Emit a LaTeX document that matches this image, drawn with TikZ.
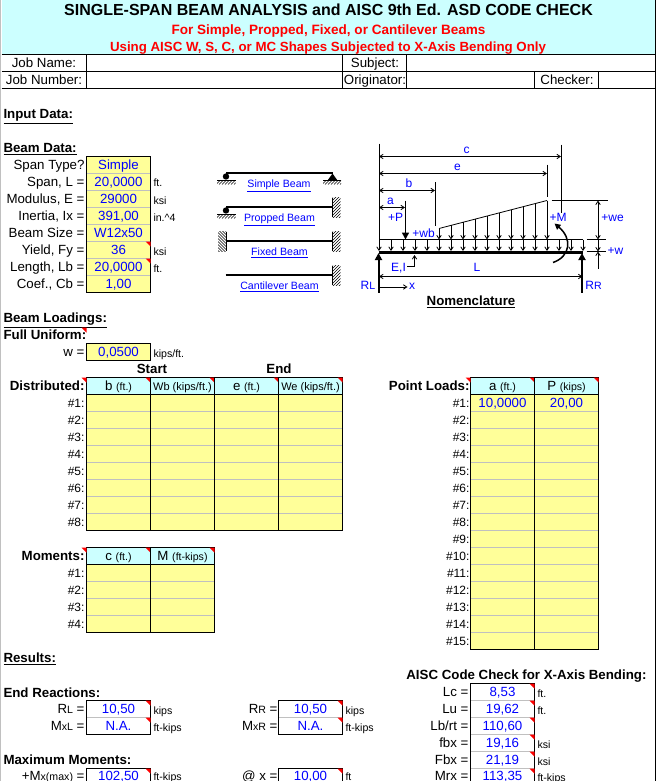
\documentclass[tikz,border=0pt]{standalone}
\usepackage{fontspec}
\setmainfont{Liberation Sans}
\usetikzlibrary{arrows.meta}
\definecolor{cy}{RGB}{204,255,255}
\definecolor{yl}{RGB}{255,255,153}
\definecolor{gr}{RGB}{192,192,192}
\definecolor{bl}{RGB}{0,0,255}
\definecolor{rd}{RGB}{255,0,0}
\newcount\nodeno
\newcommand\lbl[4][]{\global\advance\nodeno by 1\relax\node[txt,#1] (t\the\nodeno) at (#2,#3) {#4};}
\newcommand\fA{\fontsize{13.3}{15}\selectfont}
\newcommand\fB{\fontsize{10.6}{12}\selectfont}
\newcommand\fC{\fontsize{12}{14}\selectfont}
\newcommand\sm[1]{{\fB #1}}
\newcommand\incol[5]{% x0 x1 y0 rows fill
  \fill[#5] (#1,#3) rectangle (#2,{#3+17*#4});
  \foreach \k in {1,...,#4} \draw[gr] (#1,{#3+17*\k}) -- (#2,{#3+17*\k});
  \draw[grid] (#1,#3) rectangle (#2,{#3+17*#4});}
\newcommand\hd[3]{\fill[cy] (#1,#3) rectangle (#2,{#3+17}); \draw[grid] (#1,#3) rectangle (#2,{#3+17});}
\newcommand\cm[2]{\fill[rd] ({#1-5},#2) -- (#1,#2) -- (#1,{#2+5}) -- cycle;}
\newcommand\rwall[2]{\begin{scope}\clip (#1,#2) rectangle ({#1+8},{#2+19.5});
 \foreach \k in {0,3,...,27} \draw[hat] (#1,{#2+\k}) -- ({#1+8},{#2+\k-8});\end{scope}
 \draw[hat] (#1,#2) -- (#1,{#2+19.5});}
\newcommand\lwall[2]{\begin{scope}\clip ({#1-8},#2) rectangle (#1,{#2+19.5});
 \foreach \k in {0,3,...,27} \draw[hat] (#1,{#2+\k}) -- ({#1-8},{#2+\k-8});\end{scope}
 \draw[hat] (#1,#2) -- (#1,{#2+19.5});}
\newcommand\grnd[3]{\draw[hat] (#1,#3) -- (#2,#3);
 \begin{scope}\clip (#1,#3) rectangle (#2,{#3+4});
 \foreach \k in {0,3,...,21} \draw[hat] ({#1+\k-4},{#3+4}) -- ({#1+\k},#3);\end{scope}}
\tikzset{
 txt/.style={inner sep=0pt,outer sep=0pt,anchor=mid,font=\fA,yshift=-1.5pt},
 R/.style={anchor=mid east},
 L/.style={anchor=mid west},
 bd/.style={font=\fA\bfseries},
 val/.style={text=bl},
 unit/.style={anchor=mid west,font=\fB},
 row/.style={anchor=mid east,font=\fC},
 hh/.style={font=\fontsize{11}{13}\selectfont},
 lnk/.style={font=\fB,text=bl},
 nm/.style={font=\fC,text=bl},
 grid/.style={draw=black,line width=1pt},
 hat/.style={draw=black,line width=.6pt},
 dim/.style={draw=black,line width=.8pt,{Straight Barb[length=3.5pt,width=4.5pt]}-{Straight Barb[length=3.5pt,width=4.5pt]}},
 one/.style={draw=black,line width=.8pt,-{Straight Barb[length=3.5pt,width=4.5pt]}},
 thn/.style={draw=black,line width=.8pt},
 heavy/.style={draw=black,line width=2pt,-{Triangle[length=7pt,width=7pt]}},
}
\begin{document}
\begin{tikzpicture}[x=1pt,y=-1pt,line width=1pt]
\clip (0,0) rectangle (656,781);
\fill[white] (0,0) rectangle (656,781);
\begin{scope}[shift={(0.5,0.5)}]
% title band
\fill[cy] (1,0) rectangle (654,54);
\draw[gr,line width=1.5pt] (0,0) -- (0,781);
\draw[grid] (654.5,0) -- (654.5,781);
\lbl[font=\fontsize{16}{18}\selectfont\bfseries]{328}{11}{SINGLE-SPAN BEAM ANALYSIS and AISC 9th Ed. ASD CODE CHECK}
\lbl[font=\fontsize{13.55}{15}\selectfont\bfseries,text=rd]{328}{30}{For Simple, Propped, Fixed, or Cantilever Beams}
\lbl[font=\fA\bfseries,text=rd]{327.5}{47}{Using AISC W, S, C, or MC Shapes Subjected to X-Axis Bending Only}
% job block
\draw[grid] (1,54) -- (654,54) (1,71) -- (654,71) (1,88) -- (654,88);
\draw[grid] (86,54) -- (86,88) (342,54) -- (342,88) (406,54) -- (406,88) (534,71) -- (534,88) (598,71) -- (598,88);
\lbl{43.5}{63}{Job Name:}
\lbl{43.5}{80}{Job Number:}
\lbl{374.5}{63}{Subject:}
\lbl{374.5}{80}{Originator:}
\lbl{566.5}{80}{Checker:}
\lbl[L,bd]{3}{114}{\underline{Input Data:}}
% beam data
\lbl[L,bd]{3}{148}{\underline{Beam Data:}}
\incol{86}{150}{156}{8}{yl}
\foreach \t [count=\i from 0] in {Span Type?,{Span, L =},{Modulus, E =},{Inertia, Ix =},Beam Size =,{Yield, Fy =},{Length, Lb =},{Coef., Cb =}}
  {\lbl[R]{84}{{165+17*\i}}{\t}}
\foreach \t [count=\i from 0] in {Simple,{20,0000},29000,{391,00},W12x50,36,{20,0000},{1,00}}
  {\lbl[val]{118}{{165+17*\i}}{\t}}
\lbl[unit]{153}{182}{ft.}
\lbl[unit]{153}{199.5}{ksi}
\lbl[unit]{153}{216.5}{in.\^{}4}
\lbl[unit]{153}{250.5}{ksi}
\lbl[unit]{153}{267.5}{ft.}
\cm{150}{241}\cm{150}{258}
% beam sketches
\draw[black,line width=2pt] (225.5,172) -- (332,172);
\fill[black] (225.5,176) circle (3.2);
\grnd{216.5}{235}{180}
\fill[black] (332,173) -- (337,180) -- (327,180) -- cycle;
\grnd{322.5}{340.5}{180}
\lbl[lnk]{278.5}{183}{\underline{Simple Beam}}
\draw[black,line width=2pt] (225.5,206) -- (332,206);
\fill[black] (225.5,210) circle (3.2);
\grnd{216.5}{235}{214}
\rwall{332}{197}
\lbl[lnk]{279}{217}{\underline{Propped Beam}}
\draw[black,line width=2pt] (225.5,240) -- (332,240);
\lwall{225.5}{231}
\rwall{332}{231}
\lbl[lnk]{279}{251}{\underline{Fixed Beam}}
\draw[black,line width=2pt] (225,274) -- (332,274);
\rwall{332}{265}
\lbl[lnk]{279}{285}{\underline{Cantilever Beam}}
% nomenclature
\draw[thn] (378.5,143) -- (378.5,239);
\draw[thn] (560.5,144) -- (560.5,212);
\draw[thn] (546.5,164) -- (546.5,196);
\draw[thn] (434.5,181.5) -- (434.5,225);
\draw[dim] (378.5,156) -- (560.5,156);
\draw[dim] (378.5,173) -- (546.5,173);
\draw[dim] (378.5,190) -- (434.5,190);
\draw[dim] (378.5,207) -- (404.5,207);
\draw[heavy,line width=1.5pt] (405,200) -- (405,239);
\draw[thn] (378.5,239) -- (582.5,239);
\foreach \k in {0,...,17} \draw[one] ({378.5+12*\k},239) -- ({378.5+12*\k},250.5);
\draw[thn] (438.5,228) -- (546.5,200);
\foreach \k in {0,...,9} \draw[one] ({438.5+12*\k},{228-\k*28/9}) -- ({438.5+12*\k},239);
\draw[black,line width=3pt] (378,252) -- (582,252);
\draw[heavy] (378,292) -- (378,252.5);
\draw[heavy] (581.5,292) -- (581.5,252.5);
\draw[black,line width=1.5pt,-{Triangle[length=6pt,width=6pt]}] (552.5,262) .. controls (570,256) and (572,238) .. (554,223);
\draw[thn] (406.5,266) -- (414,266);
\draw[one] (414,266) -- (414,254.5);
\draw[dim] (378.5,276) -- (582,276);
\draw[one] (379,286.5) -- (407,286.5);
\draw[thn] (551,200) -- (607.5,200);
\draw[thn] (586,239) -- (605,239);
\draw[thn] (586,251) -- (605,251);
\draw[dim] (597.5,200) -- (597.5,239);
\draw[one] (597.5,239) -- (597.5,251);
\draw[one] (597.5,268) -- (597.5,251);
\lbl[nm]{466}{149}{c}
\lbl[nm]{457}{165.5}{e}
\lbl[nm]{408.5}{183}{b}
\lbl[nm]{390}{200}{a}
\lbl[nm]{395}{217}{+P}
\lbl[nm]{423}{233}{+wb}
\lbl[nm]{557.5}{217}{+M}
\lbl[nm]{612}{217}{+we}
\lbl[nm]{615}{250}{+w}
\lbl[nm]{398}{267}{E,I}
\lbl[nm]{476.5}{267}{L}
\lbl[nm]{367.5}{285}{R\sm{L}}
\lbl[nm]{593}{285}{R\sm{R}}
\lbl[nm]{411.5}{285}{x}
\lbl[bd]{470.5}{301}{\underline{Nomenclature}}
% beam loadings
\lbl[L,bd]{3}{318}{\underline{Beam Loadings:}}
\lbl[L,bd]{3}{335}{Full Uniform:}
\cm{86}{327}
\lbl[R]{84}{352}{w =}
\incol{86}{150}{343}{1}{yl}
\lbl[val]{118}{352}{0,0500}
\lbl[unit]{153}{352.5}{kips/ft.}
\lbl[bd]{151.5}{369}{Start}
\lbl[bd]{278.5}{369}{End}
% distributed
\lbl[R,bd]{84}{386}{Distributed:}
\foreach \a/\b in {86/150,150/214,214/278,278/342}{\hd{\a}{\b}{377}\incol{\a}{\b}{394}{8}{yl}\cm{\b}{377}}
\cm{86}{377}
\lbl{118}{386}{b \sm{(ft.)}}
\lbl[hh]{182}{386}{Wb (kips/ft.)}
\lbl{246}{386}{e \sm{(ft.)}}
\lbl[hh]{310}{386}{We (kips/ft.)}
\foreach \i in {1,...,8} {\lbl[row]{84}{{403+17*(\i-1)}}{\#\i:}}
% moments
\lbl[R,bd]{84}{556}{Moments:}
\foreach \a/\b in {86/150,150/214}{\hd{\a}{\b}{547}\incol{\a}{\b}{564}{4}{yl}\cm{\b}{547}}
\cm{86}{547}
\lbl{118}{556}{c \sm{(ft.)}}
\lbl{182}{556}{M \sm{(ft-kips)}}
\foreach \i in {1,...,4} {\lbl[row]{84}{{573+17*(\i-1)}}{\#\i:}}
% point loads
\lbl[R,bd]{469}{386}{Point Loads:}
\foreach \a/\b in {470/534,534/598}{\hd{\a}{\b}{377}\incol{\a}{\b}{394}{15}{yl}\cm{\b}{377}}
\cm{470}{377}
\lbl{502}{386}{a \sm{(ft.)}}
\lbl{566}{386}{P \sm{(kips)}}
\foreach \i in {1,...,15} {\lbl[row]{469}{{403+17*(\i-1)}}{\#\i:}}
\lbl[val]{502}{403}{10,0000}
\lbl[val]{566}{403}{20,00}
% results
\lbl[L,bd]{3}{658}{\underline{Results:}}
\lbl[R,bd]{646}{675}{AISC Code Check for X-Axis Bending:}
\lbl[L,bd]{3}{692.5}{End Reactions:}
\lbl[L,bd]{3}{760}{Maximum Moments:}
\incol{86}{150}{700}{2}{white}
\incol{278}{342}{700}{2}{white}
\incol{86}{150}{768}{1}{white}
\incol{278}{342}{768}{1}{white}
\incol{470}{534}{683}{6}{white}
\cm{150}{700}\cm{150}{717}\cm{342}{700}\cm{342}{717}\cm{150}{768}\cm{342}{768}
\foreach \i in {0,...,5} {\cm{534}{683+17*\i}}
\lbl[R]{84}{709}{R\sm{L} =}
\lbl[R]{84}{726}{M\sm{xL} =}
\lbl[R]{84}{775.5}{+M\sm{x(max)} =}
\lbl[R]{277}{709}{R\sm{R} =}
\lbl[R]{277}{726}{M\sm{xR} =}
\lbl[R]{277}{775.5}{@ x =}
\lbl[val]{118}{709}{10,50}
\lbl[val]{118}{726}{N.A.}
\lbl[val]{118}{775.5}{102,50}
\lbl[val]{310}{709}{10,50}
\lbl[val]{310}{726}{N.A.}
\lbl[val]{310}{775.5}{10,00}
\lbl[unit]{153}{710}{kips}
\lbl[unit]{153}{727}{ft-kips}
\lbl[unit]{153}{776}{ft-kips}
\lbl[unit]{345}{710}{kips}
\lbl[unit]{345}{727}{ft-kips}
\lbl[unit]{345}{776}{ft}
\foreach \t/\v/\u/\dd [count=\i from 0] in {Lc =/{8,53}/ft./0,Lu =/{19,62}/ft./0,Lb\slash rt =/{110,60}/{}/0,fbx =/{19,16}/ksi/0,Fbx =/{21,19}/ksi/0,Mrx =/{113,35}/ft-kips/-1.5}
 {\lbl[R]{468}{{692+17*\i+\dd}}{\t}\lbl[val]{502}{{692+17*\i+\dd}}{\v}\lbl[unit]{537}{{693+17*\i+\dd}}{\u}}
\end{scope}
\end{tikzpicture}
\end{document}
